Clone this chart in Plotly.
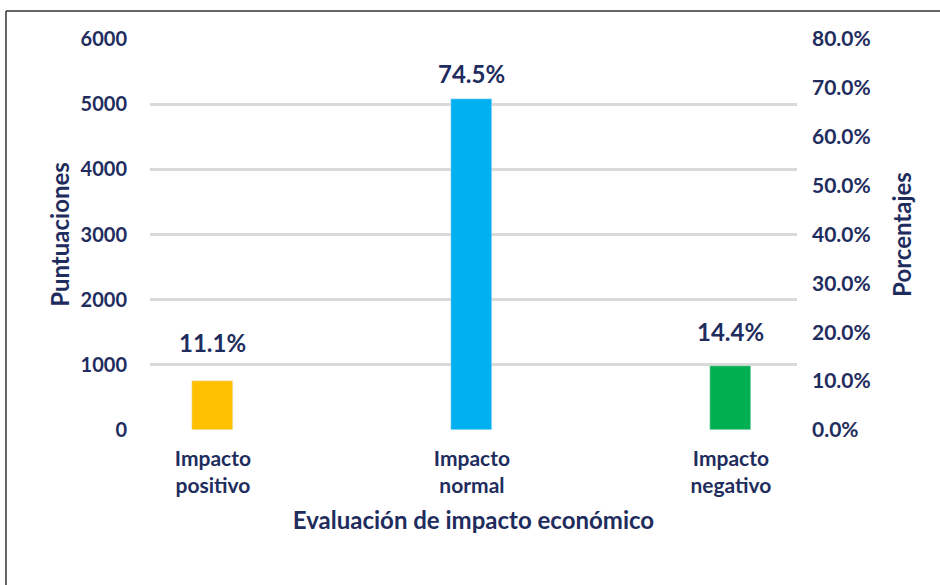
import plotly.graph_objects as go

categories = ["Impacto<br>positivo", "Impacto<br>normal", "Impacto<br>negativo"]
puntuaciones = [756, 5078, 982]
porcentajes = [11.1, 74.5, 14.4]
bar_colors = ["#FFC000", "#00B0F0", "#00B050"]
left_ticks = [0, 1000, 2000, 3000, 4000, 5000, 6000]
right_ticks = [0, 10, 20, 30, 40, 50, 60, 70, 80]
label_shift = [38, 26, 35]

NAVY = "#1F2D5E"
FONT = "Lato"

xpos = list(range(len(categories)))

fig = go.Figure()
fig.add_trace(go.Bar(
    x=xpos, y=puntuaciones, marker_color=bar_colors, width=0.158,
    hoverinfo="skip", showlegend=False,
))
# invisible trace to activate right axis
fig.add_trace(go.Scatter(
    x=xpos, y=porcentajes, yaxis="y2", mode="markers",
    marker=dict(opacity=0), hoverinfo="skip", showlegend=False,
))

for xi, v, p, s in zip(xpos, puntuaciones, porcentajes, label_shift):
    fig.add_annotation(
        x=xi, y=v, text=f"{p:.1f}%", showarrow=False, yshift=s,
        font=dict(family=FONT, size=24, color=NAVY, weight="bold"),
    )

fig.update_layout(
    width=940, height=585,
    margin=dict(l=150, r=143, t=39, b=155),
    plot_bgcolor="white", paper_bgcolor="white",
    bargap=0,
    xaxis=dict(
        range=[-0.243, 2.255], tickvals=xpos, ticktext=categories,
        showgrid=False, zeroline=False, showline=False, ticks="",
        ticklabelstandoff=14,
        tickfont=dict(family=FONT, size=21, color=NAVY, weight="bold"),
        title=dict(text="Evaluación de impacto económico",
                   font=dict(family=FONT, size=24, color=NAVY, weight="bold"),
                   standoff=15),
    ),
    yaxis=dict(
        range=[0, 6000], tickvals=left_ticks,
        ticktext=[str(t) for t in left_ticks],
        showgrid=True, gridcolor="#D9D9D9", gridwidth=2.5,
        zeroline=False, showline=False, ticks="",
        ticklabelstandoff=22,
        tickfont=dict(family=FONT, size=20, color=NAVY, weight="bold"),
        title=dict(text="Puntuaciones",
                   font=dict(family=FONT, size=24, color=NAVY, weight="bold"),
                   standoff=4),
    ),
    yaxis2=dict(
        range=[0, 80], overlaying="y", side="right",
        tickvals=right_ticks, ticktext=[f"{t:.1f}%" for t in right_ticks],
        showgrid=False, zeroline=False, showline=False, ticks="",
        ticklabelstandoff=14,
        tickfont=dict(family=FONT, size=21, color=NAVY, weight="bold"),
        title=dict(text="Porcentajes",
                   font=dict(family=FONT, size=24, color=NAVY, weight="bold"),
                   standoff=24),
    ),
)

# frame lines (top and left border)
fig.add_shape(type="line", xref="paper", yref="paper",
              x0=-0.2226, x1=1.23, y0=1.0716, y1=1.0716,
              line=dict(color="#333333", width=1.5))
fig.add_shape(type="line", xref="paper", yref="paper",
              x0=-0.2226, x1=-0.2226, y0=1.0716, y1=-0.41,
              line=dict(color="#333333", width=1.5))

fig.write_html(
    "out.html",
    config={"displayModeBar": False},
    post_script="document.body.style.margin='0';document.body.style.overflow='hidden';",
)
